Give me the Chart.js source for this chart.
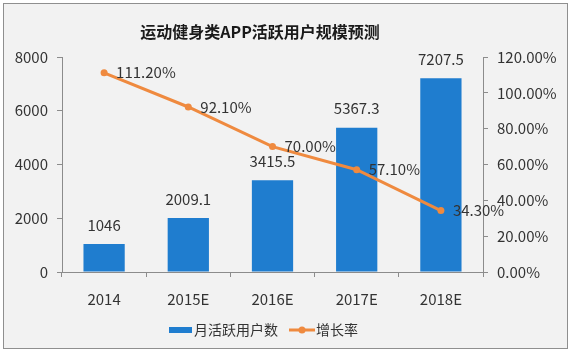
<!DOCTYPE html>
<html><head><meta charset="utf-8">
<script src="https://cdn.jsdelivr.net/npm/chart.js@4.4.0/dist/chart.umd.min.js"></script>
<style>html,body{margin:0;padding:0;background:#fff;}#wrap{width:571px;height:355px;}</style>
</head><body><div id="wrap"><canvas id="c" width="571" height="355"></canvas></div>
<script>
const chartTitle = '运动健身类APP活跃用户规模预测';
const categories = ['2014', '2015E', '2016E', '2017E', '2018E'];
const users = [1046, 2009.1, 3415.5, 5367.3, 7207.5];
const growth = [111.2, 92.1, 70.0, 57.1, 34.3];
const seriesNames = ['月活跃用户数', '增长率'];

const FONT = "'Noto Sans CJK SC', 'Noto Sans', sans-serif";
const BLUE = '#1f7dcf';
const ORANGE = '#ef8a3f';
const AXIS = '#8c8c8c';
const TEXT = '#333333';
const FS = 15;

const framePlugin = {
  id: 'frame',
  beforeDraw(chart) {
    const ctx = chart.ctx;
    ctx.save();
    ctx.fillStyle = '#ffffff';
    ctx.fillRect(0, 0, chart.width, chart.height);
    ctx.fillStyle = '#f2f2f2';
    ctx.fillRect(3, 3, 564, 345);
    ctx.strokeStyle = '#8f8f8f';
    ctx.lineWidth = 1;
    ctx.strokeRect(3.5, 3.5, 564, 345);
    ctx.fillStyle = '#1a1a1a';
    ctx.font = 'bold 16px ' + FONT;
    ctx.textAlign = 'center';
    ctx.textBaseline = 'middle';
    ctx.fillText(chartTitle, 260, 32);
    ctx.restore();
  },
  afterDatasetsDraw(chart) {
    const ctx = chart.ctx;
    ctx.save();
    ctx.font = FS + 'px ' + FONT;
    ctx.fillStyle = TEXT;
    ctx.textBaseline = 'middle';
    const barMeta = chart.getDatasetMeta(1);
    barMeta.data.forEach((el, i) => {
      ctx.textAlign = 'center';
      ctx.fillText(String(users[i]), el.x, el.y - 19);
    });
    const lineMeta = chart.getDatasetMeta(0);
    lineMeta.data.forEach((el, i) => {
      ctx.textAlign = 'left';
      ctx.fillText(growth[i].toFixed(2) + '%', el.x + 12, el.y);
    });
    ctx.restore();
  },
  afterDraw(chart) {
    const ctx = chart.ctx;
    ctx.save();
    ctx.font = '14px ' + FONT;
    ctx.textBaseline = 'middle';
    ctx.textAlign = 'left';
    const y = 329.5;
    ctx.fillStyle = BLUE;
    ctx.fillRect(169, 327, 23, 6);
    ctx.fillStyle = TEXT;
    ctx.fillText(seriesNames[0], 194, y);
    ctx.strokeStyle = ORANGE;
    ctx.lineWidth = 3;
    ctx.beginPath();
    ctx.moveTo(289, 330);
    ctx.lineTo(315, 330);
    ctx.stroke();
    ctx.fillStyle = ORANGE;
    ctx.beginPath();
    ctx.arc(302, 330, 3.5, 0, Math.PI * 2);
    ctx.fill();
    ctx.fillStyle = TEXT;
    ctx.fillText(seriesNames[1], 316, y);
    ctx.restore();
  }
};

new Chart(document.getElementById('c'), {
  data: {
    labels: categories,
    datasets: [
      {
        type: 'line', label: seriesNames[1], data: growth, yAxisID: 'y2', order: 0,
        borderColor: ORANGE, backgroundColor: ORANGE, borderWidth: 3,
        pointRadius: 3.5, pointBackgroundColor: ORANGE, pointBorderWidth: 0,
        tension: 0
      },
      {
        type: 'bar', label: seriesNames[0], data: users, yAxisID: 'y', order: 1,
        backgroundColor: BLUE, borderWidth: 0,
        categoryPercentage: 1, barPercentage: 0.49
      }
    ]
  },
  options: {
    responsive: false,
    animation: false,
    devicePixelRatio: 1,
    layout: { padding: { top: 57, left: 0, right: 0, bottom: 0 } },
    plugins: { legend: { display: false }, title: { display: false }, tooltip: { enabled: false } },
    scales: {
      x: {
        grid: { display: true, drawOnChartArea: false, drawTicks: true, tickLength: 5, color: AXIS, offset: true },
        border: { color: AXIS },
        ticks: { font: { family: FONT, size: FS }, color: TEXT, padding: 13 },
        afterFit(s) { s.height = 83; }
      },
      y: {
        position: 'left', min: 0, max: 8000,
        grid: { display: true, drawOnChartArea: false, tickLength: 5, color: AXIS },
        border: { color: AXIS },
        ticks: { stepSize: 2000, font: { family: FONT, size: FS }, color: TEXT, padding: 9,
          callback: v => String(v) },
        afterFit(s) { s.width = 62; }
      },
      y2: {
        position: 'right', min: 0, max: 120,
        grid: { display: true, drawOnChartArea: false, tickLength: 5, color: AXIS },
        border: { color: AXIS },
        ticks: { stepSize: 20, font: { family: FONT, size: FS }, color: TEXT, padding: 9,
          callback: v => Number(v).toFixed(2) + '%' },
        afterFit(s) { s.width = 88; }
      }
    }
  },
  plugins: [framePlugin]
});
</script>
</body></html>
